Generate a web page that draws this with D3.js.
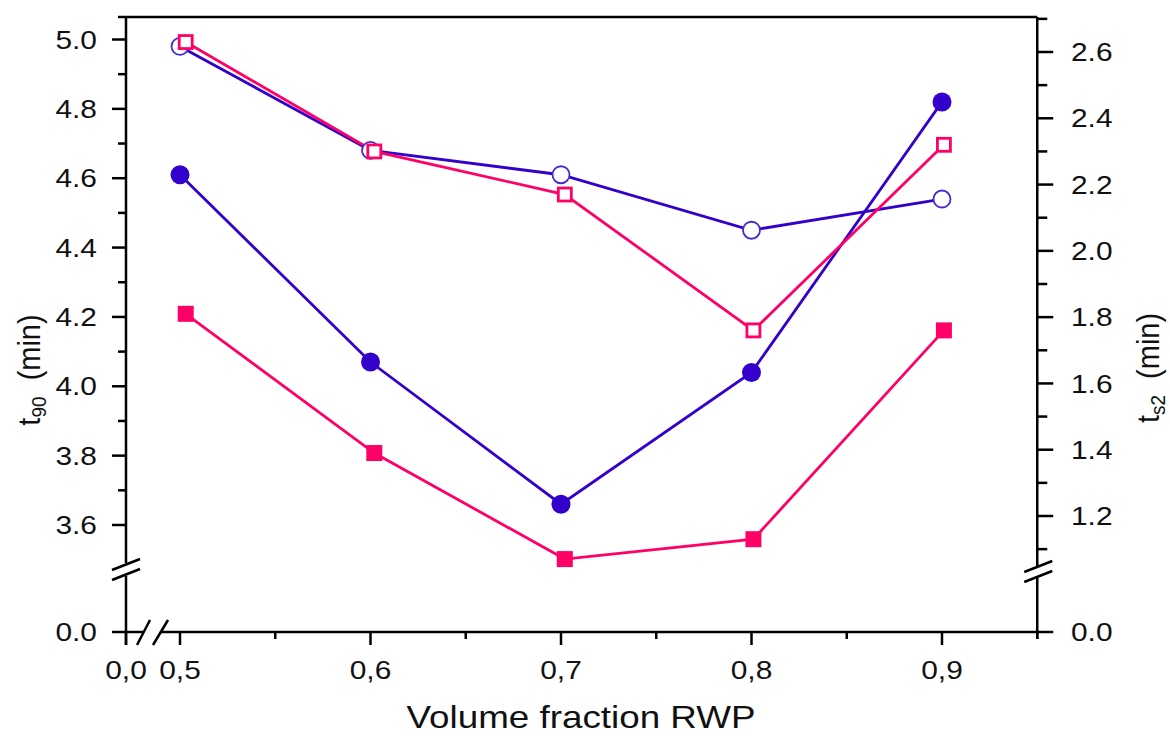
<!DOCTYPE html>
<html>
<head>
<meta charset="utf-8">
<script src="https://cdn.jsdelivr.net/npm/d3@7"></script>
<style>
  body { margin: 0; background: #fff; }
  text { font-family: "Liberation Sans", Arial, sans-serif; fill: #111; }
</style>
</head>
<body>
<svg id="chart" width="1170" height="736"></svg>
<script>
// volume fraction of RWP (squares sit a hair to the right in the original)
const fractions = [0.5, 0.6, 0.7, 0.8, 0.9];
const fractionsSq = [0.503, 0.602, 0.702, 0.801, 0.901];

// t90 (left axis) - circles
const t90Filled = [4.61, 4.07, 3.66, 4.04, 4.82];
const t90Open = [4.98, 4.68, 4.61, 4.45, 4.54];

// ts2 (right axis) - squares
const ts2Filled = [1.81, 1.39, 1.07, 1.13, 1.76];
const ts2Open = [2.63, 2.30, 2.17, 1.76, 2.32];

const xTicks = [0.5, 0.6, 0.7, 0.8, 0.9];
const xMinor = [0.55, 0.65, 0.75, 0.85, 0.95];
const leftTicks = [3.6, 3.8, 4.0, 4.2, 4.4, 4.6, 4.8, 5.0];
const leftMinor = [3.7, 3.9, 4.1, 4.3, 4.5, 4.7, 4.9];
const rightTicks = [1.2, 1.4, 1.6, 1.8, 2.0, 2.2, 2.4, 2.6];
const rightMinor = [1.1, 1.3, 1.5, 1.7, 1.9, 2.1, 2.3, 2.5, 2.7];

const BLUE = "#3300cc";
const PINK = "#ff0066";
const STRETCH = 1.15; // text in the original is drawn a little wide

const svg = d3.select("#chart");

const TOP = 17,
  ZERO_Y = 632,
  LEFT_X = 126,
  MAJOR = 14,
  MINOR = 8;

const x = d3.scaleLinear().domain([0.5, 0.9]).range([180, 942]);
const yL = d3.scaleLinear().domain([3.6, 5.0]).range([525, 39.5]);
const yR = d3.scaleLinear().domain([1.2, 2.6]).range([516, 52]);
const RIGHT_X = x(0.95);

const axes = svg.append("g")
  .attr("stroke", "#000")
  .attr("stroke-width", 2.5)
  .attr("fill", "none");

function seg(x1, y1, x2, y2) {
  axes.append("line")
    .attr("x1", x1).attr("y1", y1)
    .attr("x2", x2).attr("y2", y2);
}

function label(x0, y0, str, anchor, size) {
  svg.append("text")
    .attr("transform", "translate(" + x0 + "," + y0 + ") scale(" + STRETCH + ",1)")
    .attr("text-anchor", anchor)
    .attr("dy", "0.35em")
    .style("font-size", size + "px")
    .text(str);
}

// frame top
seg(LEFT_X - MINOR, TOP, RIGHT_X, TOP);

// left axis, broken
seg(LEFT_X, TOP, LEFT_X, 563);
seg(LEFT_X, 576, LEFT_X, ZERO_Y + 13);
seg(LEFT_X - 14, 570, LEFT_X + 14, 559);
seg(LEFT_X - 14, 580, LEFT_X + 14, 569);

// right axis, broken
seg(RIGHT_X, TOP, RIGHT_X, 566);
seg(RIGHT_X, 578, RIGHT_X, ZERO_Y + 7);
seg(RIGHT_X - 13, 572, RIGHT_X + 15, 561);
seg(RIGHT_X - 13, 582, RIGHT_X + 15, 571);

// bottom axis, broken after 0,0
seg(LEFT_X - MAJOR, ZERO_Y, 143, ZERO_Y);
seg(161, ZERO_Y, RIGHT_X + 16, ZERO_Y);
seg(137, 645, 150, 620);
seg(153, 645, 168, 620);

// left ticks
leftTicks.forEach(d => {
  seg(LEFT_X - MAJOR, yL(d), LEFT_X, yL(d));
  label(97, yL(d), d.toFixed(1), "end", 26);
});
leftMinor.forEach(d => seg(LEFT_X - MINOR, yL(d), LEFT_X, yL(d)));
label(97, ZERO_Y, "0.0", "end", 26);

// right ticks
rightTicks.forEach(d => {
  seg(RIGHT_X, yR(d), RIGHT_X + 16, yR(d));
  label(1071, yR(d), d.toFixed(1), "start", 26);
});
rightMinor.forEach(d => seg(RIGHT_X, yR(d), RIGHT_X + 10, yR(d)));
label(1071, ZERO_Y, "0.0", "start", 26);

// bottom ticks
const fmtX = d => d3.format(".1f")(d).replace(".", ",");
seg(LEFT_X, ZERO_Y, LEFT_X, ZERO_Y + 13);
label(LEFT_X, 670, fmtX(0), "middle", 26);
xTicks.forEach(d => {
  seg(x(d), ZERO_Y, x(d), ZERO_Y + 13);
  label(x(d), 670, fmtX(d), "middle", 26);
});
xMinor.forEach(d => seg(x(d), ZERO_Y, x(d), ZERO_Y + 7));

// axis titles
label(581, 717, "Volume fraction RWP", "middle", 32);

function yTitle(cx, cy, sub) {
  const t = svg.append("text")
    .attr("transform", "translate(" + cx + "," + cy + ") rotate(-90) scale(1,1.05)")
    .attr("text-anchor", "middle")
    .attr("dy", "0.35em")
    .style("font-size", "29px");
  t.append("tspan").text("t");
  t.append("tspan").attr("dy", 6).style("font-size", "19px").text(sub);
  t.append("tspan").attr("dy", -6).text("\u00a0 (min)");
}
yTitle(29, 370, "90");
yTitle(1148, 368, "s2");

// series
const series = [
  { xs: fractions, ys: t90Filled, y: yL, color: BLUE, shape: "circle", filled: true },
  { xs: fractions, ys: t90Open, y: yL, color: BLUE, shape: "circle", filled: false },
  { xs: fractionsSq, ys: ts2Filled, y: yR, color: PINK, shape: "square", filled: true },
  { xs: fractionsSq, ys: ts2Open, y: yR, color: PINK, shape: "square", filled: false }
];

series.forEach(s => {
  const pts = s.xs.map((v, i) => [x(v), s.y(s.ys[i])]);
  svg.append("path")
    .attr("d", d3.line()(pts))
    .attr("fill", "none")
    .attr("stroke", s.color)
    .attr("stroke-width", 2.8);
});

series.forEach(s => {
  const pts = s.xs.map((v, i) => [x(v), s.y(s.ys[i])]);
  const g = svg.append("g");
  if (s.shape === "circle") {
    g.selectAll("circle").data(pts).enter().append("circle")
      .attr("cx", d => d[0]).attr("cy", d => d[1])
      .attr("r", s.filled ? 9.5 : 8.5)
      .attr("fill", s.filled ? s.color : "#fff")
      .attr("stroke", s.filled ? "none" : "#4a2ad0")
      .attr("stroke-width", 1.8);
  } else {
    const size = s.filled ? 16 : 13;
    g.selectAll("rect").data(pts).enter().append("rect")
      .attr("x", d => d[0] - size / 2).attr("y", d => d[1] - size / 2)
      .attr("width", size).attr("height", size)
      .attr("fill", s.filled ? s.color : "#fff")
      .attr("stroke", s.filled ? "none" : s.color)
      .attr("stroke-width", 2.8);
  }
});
</script>
</body>
</html>
